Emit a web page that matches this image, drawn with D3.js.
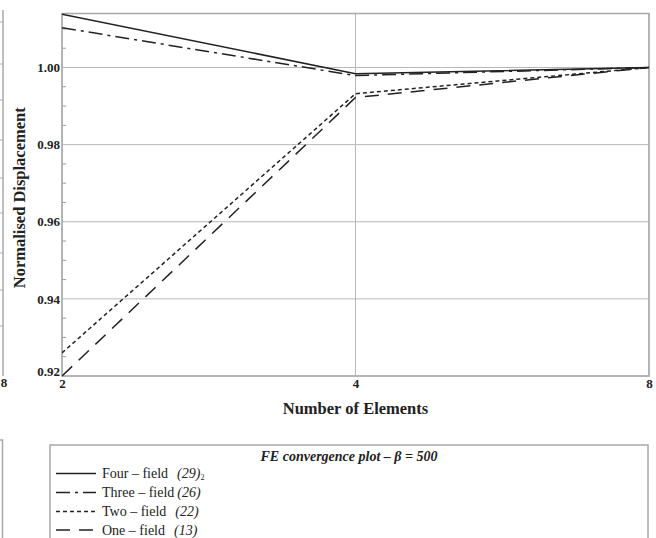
<!DOCTYPE html>
<html>
<head>
<meta charset="utf-8">
<script src="https://cdn.jsdelivr.net/npm/d3@7"></script>
<style>
  body { margin: 0; background: #fff; }
  svg { display: block; }
</style>
</head>
<body>
<script>
// Element counts (log2 spaced) and normalised displacement for each formulation
const elements = [2, 4, 8];
const fourField = [1.0138, 0.9984, 1.0000];
const threeField = [1.0103, 0.9979, 1.0000];
const twoField = [0.9260, 0.9932, 1.0000];
const oneField = [0.9200, 0.9922, 1.0000];
const yTicks = [0.92, 0.94, 0.96, 0.98, 1.00];
const seriesNames = ["Four \u2013 field", "Three \u2013 field", "Two \u2013 field", "One \u2013 field"];
const seriesRefs = ["(29)", "(26)", "(22)", "(13)"];
const refGap = [9, 3, 9, 9];

const W = 656, H = 538;
const margin = { left: 62, right: 7, top: 13.5, bottom: 162 };
const plotW = W - margin.left - margin.right;
const plotH = H - margin.top - margin.bottom;

const svg = d3.select("body").append("svg").attr("width", W).attr("height", H);
const serif = "'Liberation Serif', 'DejaVu Serif', serif";

const x = d3.scaleLog().base(2).domain([2, 8]).range([margin.left, margin.left + plotW]);
const y = d3.scaleLinear().domain([0.92, 1.014]).range([margin.top + plotH, margin.top]);

// neighbouring panel edge on the left
const edge = svg.append("g").attr("stroke", "#aaa").attr("fill", "none");
edge.append("line").attr("x1", 3).attr("x2", 3).attr("y1", 10).attr("y2", y(0.92)).attr("stroke-width", 1.5);
[22, 64, 100, 140, 178, 213, 253, 290, 326].forEach(v => {
  edge.append("line").attr("x1", 0).attr("x2", 3).attr("y1", v).attr("y2", v);
});
svg.append("text").attr("x", 4).attr("y", y(0.92) + 11).attr("text-anchor", "middle")
  .attr("font-family", serif).attr("font-weight", "bold").attr("font-size", 13).attr("fill", "#222").text("8");
edge.append("path").attr("d", `M0,440H2.5V${H}`).attr("stroke-width", 1.5);

// gridlines
const grid = svg.append("g").attr("stroke", "#b8b8b8").attr("stroke-width", 1);
yTicks.forEach(t => grid.append("line").attr("x1", margin.left).attr("x2", margin.left + plotW)
  .attr("y1", y(t)).attr("y2", y(t)));
elements.forEach(t => grid.append("line").attr("x1", x(t)).attr("x2", x(t))
  .attr("y1", margin.top).attr("y2", margin.top + plotH));

// y axis with minor ticks drawn inward
const minor = d3.range(0.92, 1.0141, 0.005).filter(v => !yTicks.some(t => Math.abs(t - v) < 1e-6));
const yAxis = d3.axisLeft(y).tickValues(yTicks).tickFormat(d3.format(".2f")).tickSize(0).tickPadding(2);
const gy = svg.append("g").attr("transform", `translate(${margin.left},0)`).call(yAxis);
gy.select(".domain").remove();
gy.selectAll("text").attr("font-family", serif).attr("font-weight", "bold").attr("font-size", 13)
  .attr("fill", "#222").attr("dy", "0.32em");
gy.selectAll(".tick").filter(d => d === 0.92).select("text").attr("dy", "-0.05em");
minor.forEach(v => svg.append("line").attr("x1", margin.left).attr("x2", margin.left + 4)
  .attr("y1", y(v)).attr("y2", y(v)).attr("stroke", "#999"));

// x axis labels
const xAxis = d3.axisBottom(x).tickValues(elements).tickFormat(d3.format("d")).tickSize(0).tickPadding(3);
const gx = svg.append("g").attr("transform", `translate(0,${margin.top + plotH})`).call(xAxis);
gx.select(".domain").remove();
gx.selectAll("text").attr("font-family", serif).attr("font-weight", "bold").attr("font-size", 13).attr("fill", "#222");

// frame
svg.append("rect").attr("x", margin.left).attr("y", margin.top).attr("width", plotW).attr("height", plotH)
  .attr("fill", "none").attr("stroke", "#a8a8a8").attr("stroke-width", 1.5);

// axis titles
svg.append("text").attr("transform", `translate(25,${margin.top + plotH / 2 + 3}) rotate(-90)`)
  .attr("text-anchor", "middle").attr("font-family", serif).attr("font-weight", "bold")
  .attr("font-size", 16.5).attr("fill", "#222").text("Normalised Displacement");
svg.append("text").attr("x", margin.left + plotW / 2).attr("y", 414).attr("text-anchor", "middle")
  .attr("font-family", serif).attr("font-weight", "bold").attr("font-size", 16.5).attr("fill", "#222")
  .text("Number of Elements");

// series
const dashes = ["none", "14,5,3,5", "4,3", "14,9"];
const allSeries = [fourField, threeField, twoField, oneField];
const line = d3.line().x((d, i) => x(elements[i])).y(d => y(d));
const clipId = "plotclip";
svg.append("clipPath").attr("id", clipId).append("rect")
  .attr("x", margin.left).attr("y", margin.top - 1).attr("width", plotW).attr("height", plotH + 2);
svg.append("g").attr("clip-path", `url(#${clipId})`).selectAll("path").data(allSeries).join("path")
  .attr("d", line).attr("fill", "none").attr("stroke", "#222").attr("stroke-width", 1.5)
  .attr("stroke-dasharray", (d, i) => dashes[i]);

// legend
const lg = svg.append("g");
lg.append("rect").attr("x", 50).attr("y", 445).attr("width", 598).attr("height", 100)
  .attr("fill", "none").attr("stroke", "#a8a8a8").attr("stroke-width", 1.5);
lg.append("text").attr("x", 349).attr("y", 461).attr("text-anchor", "middle")
  .attr("font-family", serif).attr("font-weight", "bold").attr("font-style", "italic")
  .attr("font-size", 14).attr("fill", "#222")
  .text("FE convergence plot \u2013 \u03B2 = 500");
const rowY = [473.5, 492.5, 511.5, 530];
seriesNames.forEach((name, i) => {
  lg.append("line").attr("x1", 56).attr("x2", 96).attr("y1", rowY[i]).attr("y2", rowY[i])
    .attr("stroke", "#222").attr("stroke-width", 1.5).attr("stroke-dasharray", dashes[i]);
  const t = lg.append("text").attr("x", 102).attr("y", rowY[i] + 4.5)
    .attr("font-family", serif).attr("font-size", 14).attr("fill", "#222");
  t.append("tspan").text(name);
  t.append("tspan").attr("dx", refGap[i]).attr("font-style", "italic").text(seriesRefs[i]);
  if (i === 0) t.append("tspan").attr("font-size", 8).attr("dy", 2).text("2");
});
</script>
</body>
</html>
